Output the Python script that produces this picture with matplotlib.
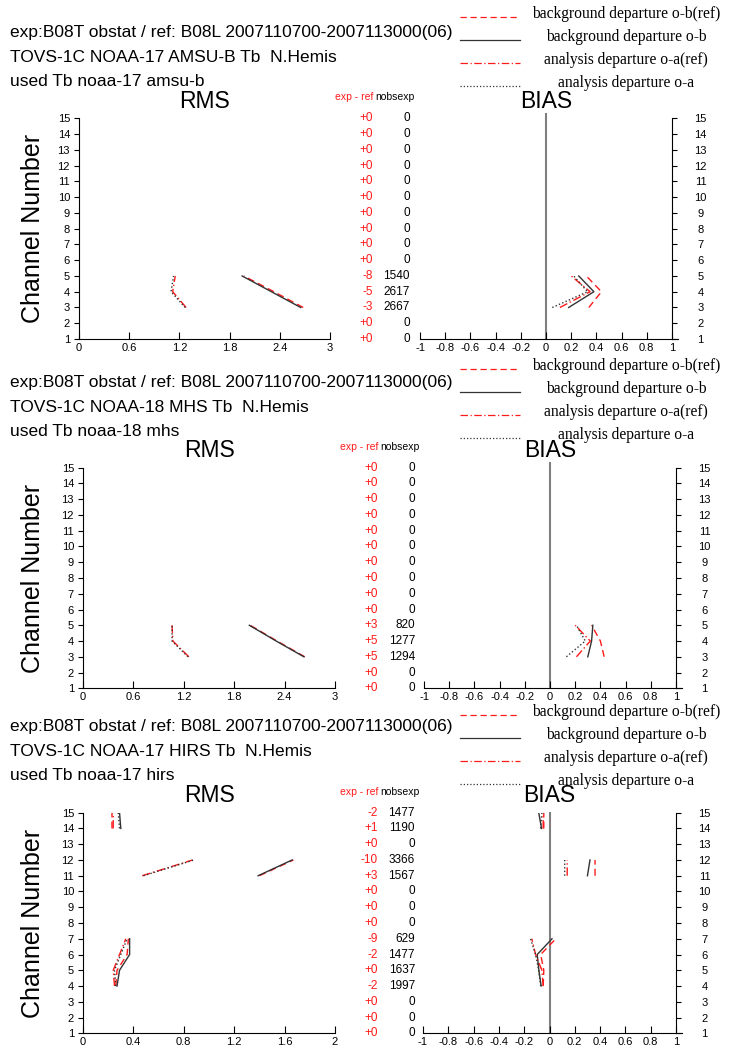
import numpy as np
import matplotlib.pyplot as plt
from matplotlib import transforms

plt.rcParams['font.family'] = ['Liberation Sans', 'DejaVu Sans']

W, H = 730, 1049
nan = np.nan
channels = np.arange(1, 16)

legend_labels = ['background departure o-b(ref)', 'background departure o-b',
                 'analysis departure o-a(ref)', 'analysis departure o-a']

# ---- AMSU-B, NOAA-17
amsub_head = ['exp:B08T obstat / ref: B08L 2007110700-2007113000(06)',
              'TOVS-1C NOAA-17 AMSU-B Tb  N.Hemis',
              'used Tb noaa-17 amsu-b']
amsub_diff = ['+0', '+0', '-3', '-5', '-8', '+0', '+0', '+0', '+0', '+0', '+0', '+0', '+0', '+0', '+0']
amsub_nobs = [0, 0, 2667, 2617, 1540, 0, 0, 0, 0, 0, 0, 0, 0, 0, 0]
amsub_rms_obref = [nan, nan, 2.68, 2.33, 1.97, nan, nan, nan, nan, nan, nan, nan, nan, nan, nan]
amsub_rms_ob = [nan, nan, 2.65, 2.30, 1.95, nan, nan, nan, nan, nan, nan, nan, nan, nan, nan]
amsub_rms_oaref = [nan, nan, 1.28, 1.12, 1.15, nan, nan, nan, nan, nan, nan, nan, nan, nan, nan]
amsub_rms_oa = [nan, nan, 1.27, 1.10, 1.13, nan, nan, nan, nan, nan, nan, nan, nan, nan, nan]
amsub_bias_obref = [nan, nan, 0.34, 0.44, 0.32, nan, nan, nan, nan, nan, nan, nan, nan, nan, nan]
amsub_bias_ob = [nan, nan, 0.18, 0.38, 0.26, nan, nan, nan, nan, nan, nan, nan, nan, nan, nan]
amsub_bias_oaref = [nan, nan, 0.11, 0.35, 0.20, nan, nan, nan, nan, nan, nan, nan, nan, nan, nan]
amsub_bias_oa = [nan, nan, 0.05, 0.33, 0.22, nan, nan, nan, nan, nan, nan, nan, nan, nan, nan]

# ---- MHS, NOAA-18
mhs_head = ['exp:B08T obstat / ref: B08L 2007110700-2007113000(06)',
            'TOVS-1C NOAA-18 MHS Tb  N.Hemis',
            'used Tb noaa-18 mhs']
mhs_diff = ['+0', '+0', '+5', '+5', '+3', '+0', '+0', '+0', '+0', '+0', '+0', '+0', '+0', '+0', '+0']
mhs_nobs = [0, 0, 1294, 1277, 820, 0, 0, 0, 0, 0, 0, 0, 0, 0, 0]
mhs_rms_obref = [nan, nan, 2.64, 2.31, 1.99, nan, nan, nan, nan, nan, nan, nan, nan, nan, nan]
mhs_rms_ob = [nan, nan, 2.63, 2.30, 1.98, nan, nan, nan, nan, nan, nan, nan, nan, nan, nan]
mhs_rms_oaref = [nan, nan, 1.26, 1.07, 1.06, nan, nan, nan, nan, nan, nan, nan, nan, nan, nan]
mhs_rms_oa = [nan, nan, 1.25, 1.06, 1.06, nan, nan, nan, nan, nan, nan, nan, nan, nan, nan]
mhs_bias_obref = [nan, nan, 0.43, 0.40, 0.33, nan, nan, nan, nan, nan, nan, nan, nan, nan, nan]
mhs_bias_ob = [nan, nan, 0.30, 0.33, 0.34, nan, nan, nan, nan, nan, nan, nan, nan, nan, nan]
mhs_bias_oaref = [nan, nan, 0.21, 0.32, 0.20, nan, nan, nan, nan, nan, nan, nan, nan, nan, nan]
mhs_bias_oa = [nan, nan, 0.13, 0.28, 0.21, nan, nan, nan, nan, nan, nan, nan, nan, nan, nan]

# ---- HIRS, NOAA-17
hirs_head = ['exp:B08T obstat / ref: B08L 2007110700-2007113000(06)',
             'TOVS-1C NOAA-17 HIRS Tb  N.Hemis',
             'used Tb noaa-17 hirs']
hirs_diff = ['+0', '+0', '+0', '-2', '+0', '-2', '-9', '+0', '+0', '+0', '+3', '-10', '+0', '+1', '-2']
hirs_nobs = [0, 0, 0, 1997, 1637, 1477, 629, 0, 0, 0, 1567, 3366, 0, 1190, 1477]
hirs_rms_obref = [nan, nan, nan, 0.26, 0.27, 0.35, 0.36, nan, nan, nan, 1.40, 1.67, nan, 0.23, 0.23]
hirs_rms_ob = [nan, nan, nan, 0.27, 0.29, 0.37, 0.37, nan, nan, nan, 1.39, 1.66, nan, 0.30, 0.29]
hirs_rms_oaref = [nan, nan, nan, 0.25, 0.24, 0.29, 0.34, nan, nan, nan, 0.47, 0.87, nan, 0.24, 0.24]
hirs_rms_oa = [nan, nan, nan, 0.26, 0.25, 0.30, 0.35, nan, nan, nan, 0.48, 0.88, nan, 0.29, 0.28]
hirs_bias_obref = [nan, nan, nan, -0.05, -0.045, -0.07, 0.05, nan, nan, nan, 0.36, 0.36, nan, -0.045, -0.045]
hirs_bias_ob = [nan, nan, nan, -0.066, -0.084, -0.097, 0.02, nan, nan, nan, 0.30, 0.32, nan, -0.063, -0.085]
hirs_bias_oaref = [nan, nan, nan, -0.05, -0.06, -0.11, -0.14, nan, nan, nan, 0.14, 0.14, nan, -0.05, -0.05]
hirs_bias_oa = [nan, nan, nan, -0.07, -0.085, -0.11, -0.15, nan, nan, nan, 0.12, 0.12, nan, -0.07, -0.06]

rms_ticks_3 = [0, 0.6, 1.2, 1.8, 2.4, 3]
rms_labels_3 = ['0', '0.6', '1.2', '1.8', '2.4', '3']
rms_ticks_2 = [0, 0.4, 0.8, 1.2, 1.6, 2]
rms_labels_2 = ['0', '0.4', '0.8', '1.2', '1.6', '2']
bias_ticks = [-1, -0.8, -0.6, -0.4, -0.2, 0, 0.2, 0.4, 0.6, 0.8, 1]
bias_labels = ['-1', '-0.8', '-0.6', '-0.4', '-0.2', '0', '0.2', '0.4', '0.6', '0.8', '1']

RED = '#ff1a1a'
DARK = '#333333'
styles = [dict(color=RED, ls=(0, (5, 3))), dict(color=DARK, ls='-'),
          dict(color=RED, ls=(0, (6, 2, 1, 2))), dict(color=DARK, ls=(0, (1, 1.6)))]

fig = plt.figure(figsize=(W / 100, H / 100), dpi=100)


def px_axes(x0, x1, ytop, ybot):
    return fig.add_axes([x0 / W, 1 - ybot / H, (x1 - x0) / W, (ybot - ytop) / H])


def fy(y):
    return 1 - y / H


def draw_panel(head, diff, nobs, rms, bias, rms_ticks, rms_labels, rms_max,
               rms_x, bias_x, ytop, ybot, head_dy, leg_dy, zero_top):
    # header lines and legend
    for i, line in enumerate(head):
        fig.text(10 / W, fy(33 + head_dy + 24 * i), line, fontsize=12.5,
                 ha='left', va='center')
    for i, (lab, st) in enumerate(zip(legend_labels, styles)):
        yl = 14 + leg_dy + 23 * i
        fig.add_artist(plt.Line2D([460 / W, 520 / W], [fy(yl + 3), fy(yl + 3)],
                                  lw=0.9, transform=fig.transFigure, **st))
        fig.text(626 / W, fy(yl), lab, fontsize=11.2, family='Liberation Serif',
                 ha='center', va='center')

    # RMS axes
    ax = px_axes(rms_x[0], rms_x[1], ytop, ybot)
    for vals, st in zip(rms, styles):
        ax.plot(vals, channels, lw=1.0, **st)
    ax.set_xlim(0, rms_max)
    ax.set_ylim(1, 15)
    ax.set_xticks(rms_ticks)
    ax.set_xticklabels(rms_labels)
    ax.set_yticks(channels)
    ax.spines[['top', 'right']].set_visible(False)
    ax.tick_params(axis='x', direction='in', length=5, width=0.8, labelsize=8, pad=3)
    ax.tick_params(axis='y', direction='out', length=3.5, width=0.8, labelsize=8, pad=3)
    for s in ax.spines.values():
        s.set_linewidth(0.8)
    ax.annotate('RMS', xy=(0.5, 1), xycoords='axes fraction', xytext=(0, 12.5),
                textcoords='offset points', ha='center', va='center', fontsize=16.5)
    fig.text(33 / W, fy((ytop + ybot) / 2), 'Channel Number', rotation=90,
             fontsize=18, ha='center', va='center')

    # exp - ref / nobsexp columns
    tr = transforms.blended_transform_factory(fig.transFigure, ax.transData)
    xr = (rms_x[1] + 43) / W
    xb = (rms_x[1] + 80) / W
    for ch, d, n in zip(channels, diff, nobs):
        ax.text(xr, ch, d, transform=tr, color=RED, fontsize=8.5, ha='right', va='center')
        ax.text(xb, ch, str(n), transform=tr, color='black', fontsize=8.5, ha='right', va='center')
    fig.text(xr, fy(ytop - 21), 'exp - ref', color=RED, fontsize=7.5, ha='right', va='center')
    fig.text((rms_x[1] + 45) / W, fy(ytop - 21), 'nobsexp', color='black', fontsize=7.5,
             ha='left', va='center')

    # BIAS axes
    bx = px_axes(bias_x[0], bias_x[1], ytop, ybot)
    for vals, st in zip(bias, styles):
        bx.plot(vals, channels, lw=1.0, **st)
    bx.plot([0, 0], [1, zero_top], color='#808080', lw=1.5, clip_on=False, zorder=1)
    bx.plot([1, 1.05], [1, 1], color='black', lw=0.8, clip_on=False)
    bx.set_xlim(-1, 1)
    bx.set_ylim(1, 15)
    bx.set_xticks(bias_ticks)
    bx.set_xticklabels(bias_labels)
    bx.set_yticks(channels)
    bx.yaxis.tick_right()
    bx.spines[['top', 'left']].set_visible(False)
    for s in bx.spines.values():
        s.set_linewidth(0.8)
    bx.tick_params(axis='x', direction='in', length=5, width=0.8, labelsize=8, pad=3)
    bx.tick_params(axis='y', direction='out', length=3.5, width=0.8, labelsize=8, pad=17)
    for t in bx.get_yticklabels():
        t.set_ha('center')
    bx.annotate('BIAS', xy=(0.5, 1), xycoords='axes fraction', xytext=(0, 12.5),
                textcoords='offset points', ha='center', va='center', fontsize=16.5)


draw_panel(amsub_head, amsub_diff, amsub_nobs,
           [amsub_rms_obref, amsub_rms_ob, amsub_rms_oaref, amsub_rms_oa],
           [amsub_bias_obref, amsub_bias_ob, amsub_bias_oaref, amsub_bias_oa],
           rms_ticks_3, rms_labels_3, 3, (79, 330), (420, 672), 118.4, 339.0, 0, 0, 15.3)
draw_panel(mhs_head, mhs_diff, mhs_nobs,
           [mhs_rms_obref, mhs_rms_ob, mhs_rms_oaref, mhs_rms_oa],
           [mhs_bias_obref, mhs_bias_ob, mhs_bias_oaref, mhs_bias_oa],
           rms_ticks_3, rms_labels_3, 3, (83, 335), (424, 676), 467.7, 688.3, 350, 352, 15.3)
draw_panel(hirs_head, hirs_diff, hirs_nobs,
           [hirs_rms_obref, hirs_rms_ob, hirs_rms_oaref, hirs_rms_oa],
           [hirs_bias_obref, hirs_bias_ob, hirs_bias_oaref, hirs_bias_oa],
           rms_ticks_2, rms_labels_2, 2, (83, 335), (423, 676), 812.7, 1033.3, 694, 698, 15.0)

fig.savefig('out.png', dpi=100)
